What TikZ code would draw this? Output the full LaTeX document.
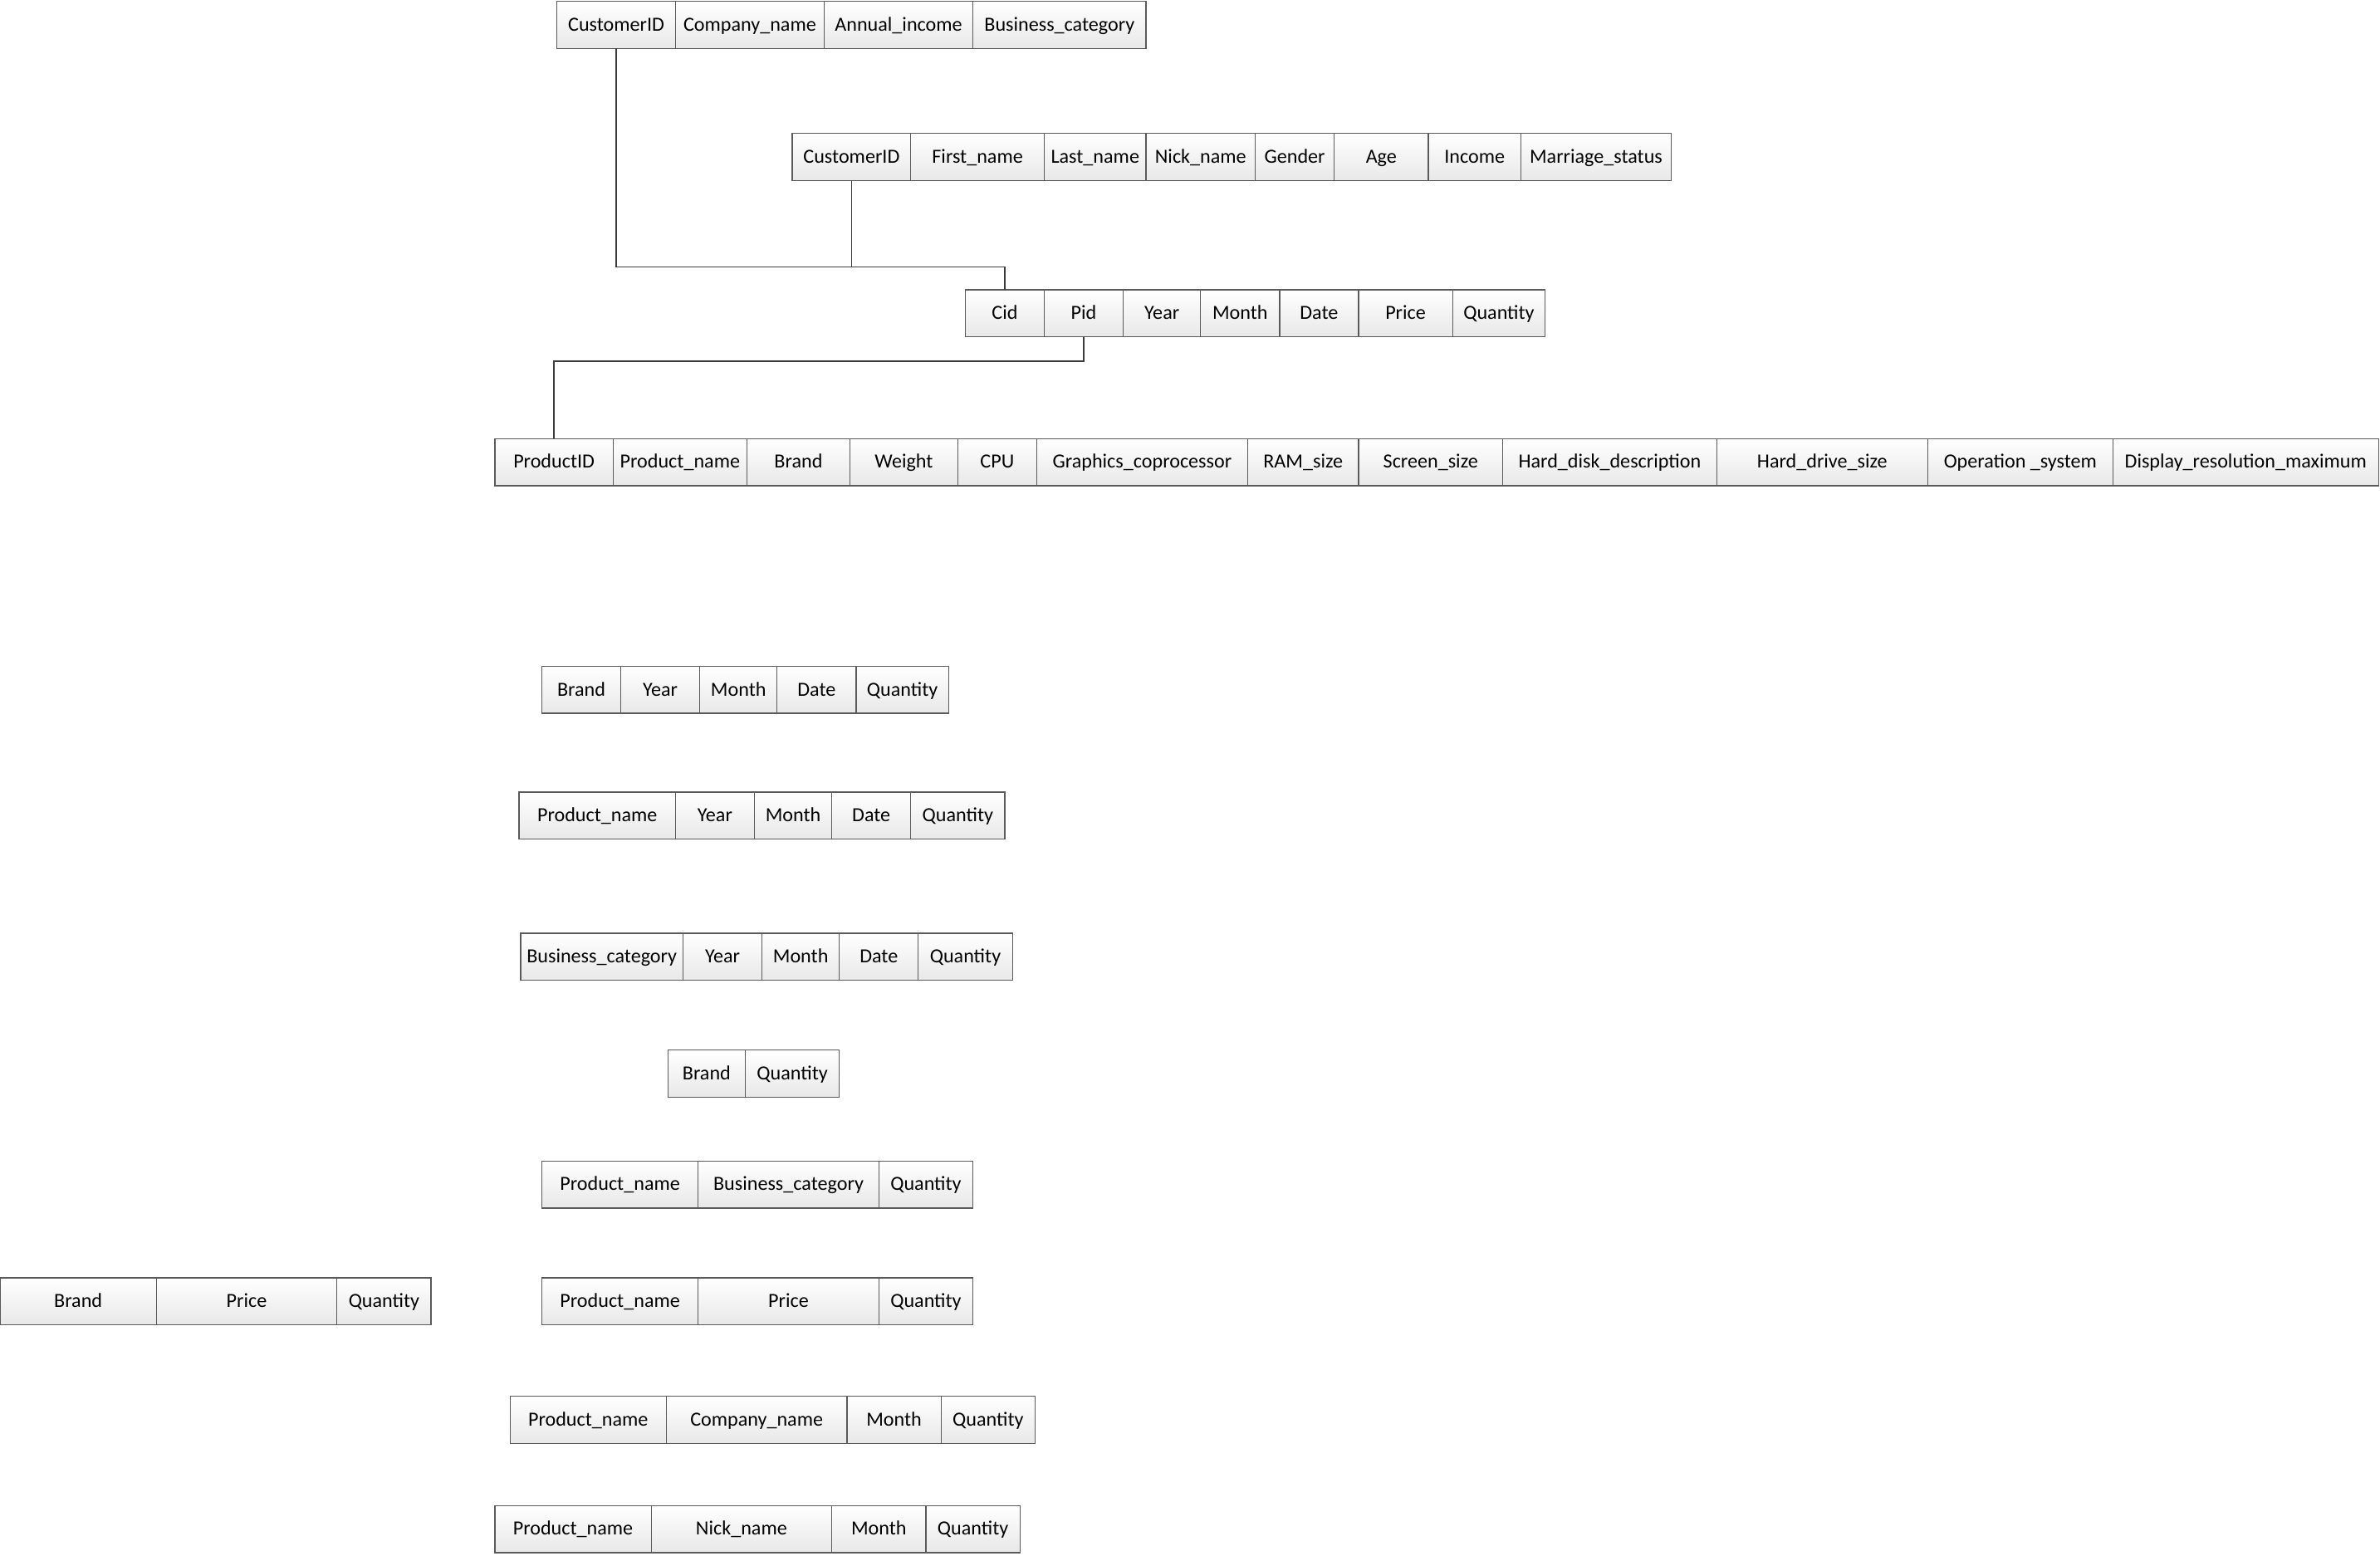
\documentclass[tikz,border=0pt]{standalone}
\usepackage{fontspec}
\setmainfont{Carlito}
\definecolor{cellline}{HTML}{5A5A5A}
\definecolor{cellbot}{HTML}{E8E8E8}
\definecolor{linkline}{HTML}{3C3C3C}
\tikzset{
  cell/.style={draw=cellline, line width=0.7pt, top color=white, bottom color=cellbot,
    minimum height=31pt, inner sep=0pt, outer sep=0pt, anchor=west,
    text height=10pt, text depth=2pt,
    font=\fontsize{13.2}{15}\selectfont, text=black},
  link/.style={draw=linkline, line width=0.8pt},
}
% one table row: #1 name prefix, #2 top edge, #3 list of left/right/label
\newcommand\tablerow[3]{%
  \foreach \xa/\xb/\txt [count=\i] in {#3} {%
    \pgfmathsetmacro\cw{\xb-\xa}
    \node[cell, minimum width=\cw pt] (#1\i) at (\xa, {-#2-15.5}) {\txt};
  }%
}
\begin{document}
\begin{tikzpicture}[x=1pt, y=1pt]
\useasboundingbox (0,0) rectangle (1568,-1025);

% customer tables
\tablerow{ta}{1}{367/445/CustomerID, 445/543/Company\_name, 543/641/Annual\_income, 641/755/Business\_category}
\tablerow{tb}{88}{522/600/CustomerID, 600/688/First\_name, 688/755/Last\_name, 755/827/Nick\_name, 827/879/Gender, 879/941/Age, 941/1002/Income, 1002/1101/Marriage\_status}
% sales fact table
\tablerow{tc}{191}{636/688/Cid, 688/740/Pid, 740/791/Year, 791/843/Month, 843/895/Date, 895/957/Price, 957/1018/Quantity}
% product table
\tablerow{td}{289}{326/404/ProductID, 404/492/Product\_name, 492/560/Brand, 560/631/Weight, 631/683/CPU, 683/822/Graphics\_coprocessor, 822/895/RAM\_size, 895/990/Screen\_size, 990/1131/Hard\_disk\_description, 1131/1270/Hard\_drive\_size, 1270/1392/Operation \_system, 1392/1567/Display\_resolution\_maximum}

% summary tables
\tablerow{te}{439}{357/409/Brand, 409/461/Year, 461/512/Month, 512/564/Date, 564/625/Quantity}
\tablerow{tf}{522}{342/445/Product\_name, 445/497/Year, 497/548/Month, 548/600/Date, 600/662/Quantity}
\tablerow{tg}{615}{343/450/Business\_category, 450/502/Year, 502/553/Month, 553/605/Date, 605/667/Quantity}
\tablerow{th}{692}{440/491/Brand, 491/553/Quantity}
\tablerow{ti}{765}{357/460/Product\_name, 460/579/Business\_category, 579/641/Quantity}
\tablerow{tj}{842}{0/103/Brand, 103/222/Price, 222/284/Quantity}
\tablerow{tk}{842}{357/460/Product\_name, 460/579/Price, 579/641/Quantity}
\tablerow{tl}{920}{336/439/Product\_name, 439/558/Company\_name, 558/620/Month, 620/682/Quantity}
\tablerow{tm}{992}{326/429/Product\_name, 429/548/Nick\_name, 548/610/Month, 610/672/Quantity}

% key links
\coordinate (bendA) at (tc1.north |- 0,-176);
\coordinate (bendB) at (td1.north |- 0,-238);
\draw[link] (ta1.south) |- (bendA) -- (tc1.north);
\draw[link] (tb1.south) -- (tb1.south |- bendA);
\draw[link] (tc2.south) |- (bendB) -- (td1.north);
\end{tikzpicture}
\end{document}
